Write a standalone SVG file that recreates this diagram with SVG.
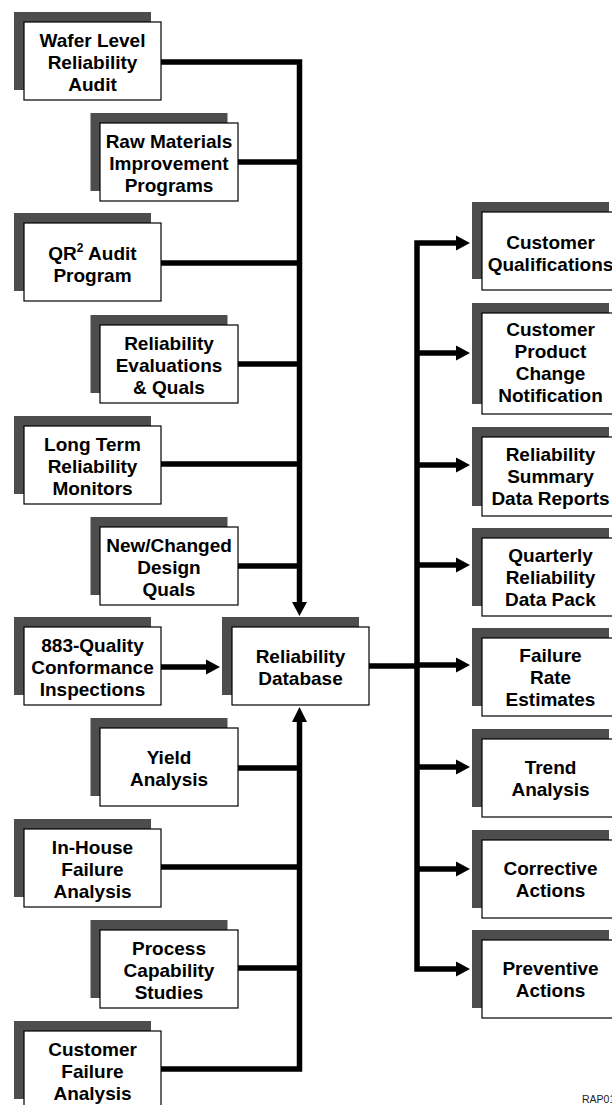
<svg xmlns="http://www.w3.org/2000/svg" width="612" height="1105" viewBox="0 0 612 1105">
<defs>
<style>
.sh{fill:#4d4d4d}
.bx{fill:#fff;stroke:#000;stroke-width:1.2}
.t{font-family:"Liberation Sans",Arial,Helvetica,sans-serif;font-weight:bold;font-size:19px;fill:#000;text-anchor:middle}
.ln{fill:none;stroke:#000;stroke-width:5.5;stroke-linejoin:miter;stroke-linecap:butt}
.ah{fill:#000}
.code{font-family:"Liberation Sans",Arial,sans-serif;font-size:10.5px;fill:#222}
</style>
</defs>
<rect width="612" height="1105" fill="#fff"/>

<g id="connectors">
<!-- left upper collector -->
<polyline class="ln" points="161,62 299.5,62 299.5,603"/>
<line class="ln" x1="238" y1="162" x2="299.5" y2="162"/>
<line class="ln" x1="161" y1="263" x2="299.5" y2="263"/>
<line class="ln" x1="238" y1="364" x2="299.5" y2="364"/>
<line class="ln" x1="161" y1="464" x2="299.5" y2="464"/>
<line class="ln" x1="238" y1="566" x2="299.5" y2="566"/>
<polygon class="ah" points="292,602 307,602 299.5,616"/>
<!-- 883 arrow -->
<line class="ln" x1="161" y1="667" x2="207" y2="667"/>
<polygon class="ah" points="206,659.5 206,674.5 220,667"/>
<!-- left lower collector -->
<polyline class="ln" points="161,1069 299.5,1069 299.5,721"/>
<line class="ln" x1="238" y1="768" x2="299.5" y2="768"/>
<line class="ln" x1="161" y1="867" x2="299.5" y2="867"/>
<line class="ln" x1="238" y1="968" x2="299.5" y2="968"/>
<polygon class="ah" points="292,722 307,722 299.5,707"/>
<!-- right distributor -->
<line class="ln" x1="369" y1="666" x2="417" y2="666"/>
<polyline class="ln" points="458,243 417,243 417,969 458,969"/>
<line class="ln" x1="417" y1="353" x2="458" y2="353"/>
<line class="ln" x1="417" y1="465" x2="458" y2="465"/>
<line class="ln" x1="417" y1="565" x2="458" y2="565"/>
<line class="ln" x1="417" y1="665" x2="458" y2="665"/>
<line class="ln" x1="417" y1="767" x2="458" y2="767"/>
<line class="ln" x1="417" y1="869" x2="458" y2="869"/>
<polygon class="ah" points="456,235.5 456,250.5 470,243"/>
<polygon class="ah" points="456,345.5 456,360.5 470,353"/>
<polygon class="ah" points="456,457.5 456,472.5 470,465"/>
<polygon class="ah" points="456,557.5 456,572.5 470,565"/>
<polygon class="ah" points="456,657.5 456,672.5 470,665"/>
<polygon class="ah" points="456,759.5 456,774.5 470,767"/>
<polygon class="ah" points="456,861.5 456,876.5 470,869"/>
<polygon class="ah" points="456,961.5 456,976.5 470,969"/>
</g>

<g id="wafer">
<rect class="sh" x="14" y="12" width="137" height="78"/>
<rect class="bx" x="24" y="22" width="137" height="78"/>
<text class="t" x="92.5" y="46.5">Wafer Level</text>
<text class="t" x="92.5" y="68.5">Reliability</text>
<text class="t" x="92.5" y="90.5">Audit</text>
</g>
<g id="rawmat">
<rect class="sh" x="90.5" y="113" width="137" height="78"/>
<rect class="bx" x="100" y="123" width="138" height="78"/>
<text class="t" x="169" y="147.5">Raw Materials</text>
<text class="t" x="169" y="169.5">Improvement</text>
<text class="t" x="169" y="191.5">Programs</text>
</g>
<g id="qr2">
<rect class="sh" x="14" y="213" width="137" height="78"/>
<rect class="bx" x="24" y="223" width="137" height="78"/>
<text class="t" x="92.5" y="259.5">QR<tspan font-size="12" dy="-8">2</tspan><tspan dy="8"> Audit</tspan></text>
<text class="t" x="92.5" y="281.5">Program</text>
</g>
<g id="releval">
<rect class="sh" x="90.5" y="315" width="137" height="78"/>
<rect class="bx" x="100" y="325" width="138" height="78"/>
<text class="t" x="169" y="349.5">Reliability</text>
<text class="t" x="169" y="371.5">Evaluations</text>
<text class="t" x="169" y="393.5">&amp; Quals</text>
</g>
<g id="longterm">
<rect class="sh" x="14" y="416" width="137" height="78"/>
<rect class="bx" x="24" y="426" width="137" height="78"/>
<text class="t" x="92.5" y="450.5">Long Term</text>
<text class="t" x="92.5" y="472.5">Reliability</text>
<text class="t" x="92.5" y="494.5">Monitors</text>
</g>
<g id="newchanged">
<rect class="sh" x="90.5" y="517" width="137" height="78"/>
<rect class="bx" x="100" y="527" width="138" height="78"/>
<text class="t" x="169" y="551.5">New/Changed</text>
<text class="t" x="169" y="573.5">Design</text>
<text class="t" x="169" y="595.5">Quals</text>
</g>
<g id="qci883">
<rect class="sh" x="14" y="617" width="137" height="78"/>
<rect class="bx" x="24" y="627" width="137" height="78"/>
<text class="t" x="92.5" y="651.5">883-Quality</text>
<text class="t" x="92.5" y="673.5">Conformance</text>
<text class="t" x="92.5" y="695.5">Inspections</text>
</g>
<g id="database">
<rect class="sh" x="222" y="617" width="137" height="78"/>
<rect class="bx" x="232" y="627" width="137" height="78"/>
<text class="t" x="300.5" y="662.5">Reliability</text>
<text class="t" x="300.5" y="684.5">Database</text>
</g>
<g id="yield">
<rect class="sh" x="90.5" y="718" width="137" height="78"/>
<rect class="bx" x="100" y="728" width="138" height="78"/>
<text class="t" x="169" y="763.5">Yield</text>
<text class="t" x="169" y="785.5">Analysis</text>
</g>
<g id="inhouse">
<rect class="sh" x="14" y="819" width="137" height="78"/>
<rect class="bx" x="24" y="829" width="137" height="78"/>
<text class="t" x="92.5" y="853.5">In-House</text>
<text class="t" x="92.5" y="875.5">Failure</text>
<text class="t" x="92.5" y="897.5">Analysis</text>
</g>
<g id="process">
<rect class="sh" x="90.5" y="920" width="137" height="78"/>
<rect class="bx" x="100" y="930" width="138" height="78"/>
<text class="t" x="169" y="954.5">Process</text>
<text class="t" x="169" y="976.5">Capability</text>
<text class="t" x="169" y="998.5">Studies</text>
</g>
<g id="custfail">
<rect class="sh" x="14" y="1021" width="137" height="78"/>
<rect class="bx" x="24" y="1031" width="137" height="78"/>
<text class="t" x="92.5" y="1055.5">Customer</text>
<text class="t" x="92.5" y="1077.5">Failure</text>
<text class="t" x="92.5" y="1099.5">Analysis</text>
</g>

<g id="custqual">
<rect class="sh" x="472" y="202" width="137" height="77"/>
<rect class="bx" x="482" y="212" width="138" height="78"/>
<text class="t" x="550.5" y="249">Customer</text>
<text class="t" x="550.5" y="271">Qualifications</text>
</g>
<g id="custpcn">
<rect class="sh" x="472" y="303" width="137" height="101"/>
<rect class="bx" x="482" y="313" width="138" height="101"/>
<text class="t" x="550.5" y="336">Customer</text>
<text class="t" x="550.5" y="358">Product</text>
<text class="t" x="550.5" y="380">Change</text>
<text class="t" x="550.5" y="402">Notification</text>
</g>
<g id="relsummary">
<rect class="sh" x="472" y="427" width="137" height="79"/>
<rect class="bx" x="482" y="437" width="138" height="79"/>
<text class="t" x="550.5" y="461">Reliability</text>
<text class="t" x="550.5" y="483">Summary</text>
<text class="t" x="550.5" y="505">Data Reports</text>
</g>
<g id="quarterly">
<rect class="sh" x="472" y="528" width="137" height="78"/>
<rect class="bx" x="482" y="538" width="138" height="78"/>
<text class="t" x="550.5" y="561.5">Quarterly</text>
<text class="t" x="550.5" y="583.5">Reliability</text>
<text class="t" x="550.5" y="605.5">Data Pack</text>
</g>
<g id="failrate">
<rect class="sh" x="472" y="628" width="137" height="78"/>
<rect class="bx" x="482" y="638" width="138" height="78"/>
<text class="t" x="550.5" y="661.5">Failure</text>
<text class="t" x="550.5" y="683.5">Rate</text>
<text class="t" x="550.5" y="705.5">Estimates</text>
</g>
<g id="trend">
<rect class="sh" x="472" y="729" width="137" height="78"/>
<rect class="bx" x="482" y="739" width="138" height="78"/>
<text class="t" x="550.5" y="774">Trend</text>
<text class="t" x="550.5" y="796">Analysis</text>
</g>
<g id="corrective">
<rect class="sh" x="472" y="830" width="137" height="78"/>
<rect class="bx" x="482" y="840" width="138" height="78"/>
<text class="t" x="550.5" y="875">Corrective</text>
<text class="t" x="550.5" y="897">Actions</text>
</g>
<g id="preventive">
<rect class="sh" x="472" y="930" width="137" height="78"/>
<rect class="bx" x="482" y="940" width="138" height="78"/>
<text class="t" x="550.5" y="975">Preventive</text>
<text class="t" x="550.5" y="997">Actions</text>
</g>

<text class="code" x="582" y="1102.5">RAP01</text>
</svg>
